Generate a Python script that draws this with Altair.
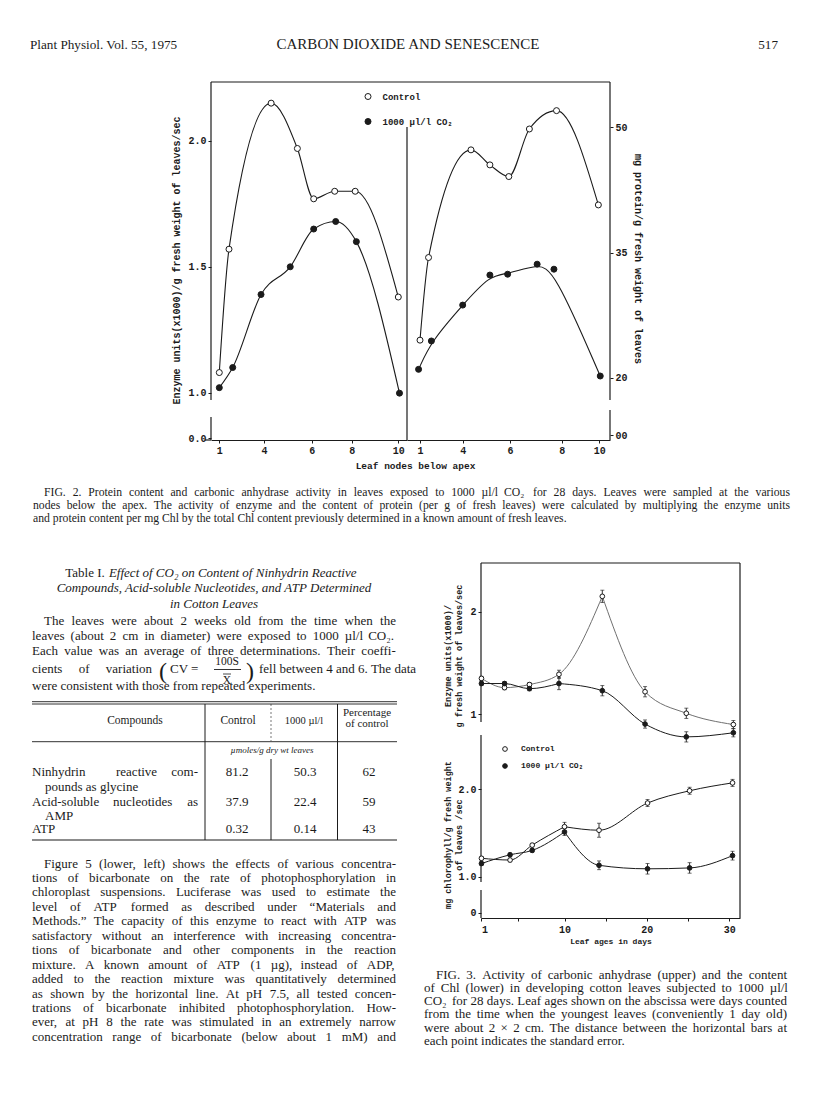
import altair as alt
import pandas as pd

SERIF = "Liberation Serif"
MONO = "Liberation Mono"
INK = "#1b1b1b"

# ---------------- Fig. 2 data (leaf nodes below apex) ----------------
f2_enz_ctrl_node = [1.0, 1.65, 4.3, 5.4, 6.1, 7.15, 8.15, 10.0]
f2_enz_ctrl = [1.08, 1.57, 2.15, 1.97, 1.77, 1.80, 1.80, 1.38]
f2_enz_co2_node = [1.0, 1.9, 3.8, 5.1, 6.1, 7.2, 8.2, 10.05]
f2_enz_co2 = [1.02, 1.10, 1.39, 1.50, 1.65, 1.68, 1.60, 0.99]
f2_prot_ctrl_node = [1.0, 1.6, 4.35, 5.15, 5.95, 6.75, 7.8, 9.95]
f2_prot_ctrl = [24.5, 34.4, 47.3, 45.5, 44.1, 49.8, 52.0, 40.7]
f2_prot_co2_node = [0.9, 1.8, 4.0, 5.15, 5.9, 7.05, 7.7, 10.05]
f2_prot_co2 = [21.0, 24.4, 28.7, 32.3, 32.4, 33.6, 33.0, 20.2]
f2_node_ticks = [1, 4, 6, 8, 10]
f2_enz_ticks = [0, 1.0, 1.5, 2.0]
f2_prot_ticks = [0, 20, 35, 50]

# ---------------- Fig. 3 data (leaf age, days) ----------------
f3_enz_day = [1, 3.5, 6.2, 9.4, 14.6, 19.8, 24.8, 30.5]
f3_enz_ctrl = [1.35, 1.26, 1.29, 1.39, 2.15, 1.22, 1.01, 0.90]
f3_enz_ctrl_se = [0.02, 0.02, 0.02, 0.04, 0.06, 0.05, 0.05, 0.04]
f3_enz_co2 = [1.30, 1.30, 1.25, 1.30, 1.23, 0.905, 0.78, 0.82]
f3_enz_co2_se = [0.02, 0.02, 0.02, 0.06, 0.05, 0.04, 0.05, 0.04]
f3_chl_day = [1, 4.1, 6.5, 10, 14.2, 20.1, 25.2, 30.4]
f3_chl_ctrl = [1.21, 1.19, 1.36, 1.57, 1.53, 1.84, 1.98, 2.07]
f3_chl_ctrl_se = [0.02, 0.02, 0.02, 0.05, 0.08, 0.04, 0.04, 0.04]
f3_chl_co2 = [1.15, 1.25, 1.30, 1.51, 1.13, 1.09, 1.10, 1.24]
f3_chl_co2_se = [0.02, 0.02, 0.02, 0.04, 0.05, 0.06, 0.06, 0.05]
f3_day_ticks = [1, 5, 10, 15, 20, 25, 30]

SERIES = ["Control", "1000 µl/l CO₂"]

# ---------------- Table I ----------------
tbl_header = ["Compounds", "Control", "1000 µl/l", "Percentage\nof control"]
tbl_units = "µmoles/g dry wt leaves"
tbl_control = ["81.2", "37.9", "0.32"]
tbl_co2 = ["50.3", "22.4", "0.14"]
tbl_pct = ["62", "59", "43"]

# ---------------- page text ----------------
header_left = "Plant Physiol. Vol. 55, 1975"
header_mid = "CARBON DIOXIDE AND SENESCENCE"
header_right = "517"

cap2_lines = [
    "FIG. 2. Protein content and carbonic anhydrase activity in leaves exposed to 1000 µl/l CO₂ for 28 days. Leaves were sampled at the various",
    "nodes below the apex. The activity of enzyme and the content of protein (per g of fresh leaves) were calculated by multiplying the enzyme units",
    "and protein content per mg Chl by the total Chl content previously determined in a known amount of fresh leaves.",
]
tbl_title_lead = "Table I."
tbl_title = ["Effect of CO₂ on Content of Ninhydrin Reactive",
             "Compounds, Acid-soluble Nucleotides, and ATP Determined",
             "in Cotton Leaves"]
para1 = [
    "The leaves were about 2 weeks old from the time when the",
    "leaves (about 2 cm in diameter) were exposed to 1000 µl/l CO₂.",
    "Each value was an average of three determinations. Their coeffi-",
]
para1_cv = ["cients of variation", "CV =", "100S", "X", "fell between 4 and 6. The data"]
para1_last = "were consistent with those from repeated experiments."
body = [
    "Figure 5 (lower, left) shows the effects of various concentra-",
    "tions of bicarbonate on the rate of photophosphorylation in",
    "chloroplast suspensions. Luciferase was used to estimate the",
    "level of ATP formed as described under “Materials and",
    "Methods.” The capacity of this enzyme to react with ATP was",
    "satisfactory without an interference with increasing concentra-",
    "tions of bicarbonate and other components in the reaction",
    "mixture. A known amount of ATP (1 µg), instead of ADP,",
    "added to the reaction mixture was quantitatively determined",
    "as shown by the horizontal line. At pH 7.5, all tested concen-",
    "trations of bicarbonate inhibited photophosphorylation. How-",
    "ever, at pH 8 the rate was stimulated in an extremely narrow",
    "concentration range of bicarbonate (below about 1 mM) and",
]
cap3_lines = [
    "FIG. 3. Activity of carbonic anhydrase (upper) and the content",
    "of Chl (lower) in developing cotton leaves subjected to 1000 µl/l",
    "CO₂ for 28 days. Leaf ages shown on the abscissa were days counted",
    "from the time when the youngest leaves (conveniently 1 day old)",
    "were about 2 × 2 cm. The distance between the horizontal bars at",
    "each point indicates the standard error.",
]

ONE = pd.DataFrame({"k": [0]})

# Times/Liberation Serif advance widths (1/1000 em) used to justify lines
_TW = {" ": 250, "(": 333, ")": 333, ",": 250, "-": 333, ".": 250, "/": 278, ":": 278,
       ";": 278, "“": 444, "”": 444, "’": 333, "µ": 500, "×": 564, "₂": 500, "=": 564}
_TW.update({c: 500 for c in "0123456789"})
_TW.update(dict(zip("ABCDEFGHIJKLMNOPQRSTUVWXYZ",
                    [722, 667, 667, 722, 611, 556, 722, 722, 333, 389, 722, 611, 889, 722,
                     722, 556, 722, 667, 556, 611, 722, 722, 944, 722, 722, 611])))
_TW.update(dict(zip("abcdefghijklmnopqrstuvwxyz",
                    [444, 500, 444, 500, 444, 333, 500, 500, 278, 278, 500, 278, 778, 500,
                     500, 500, 500, 333, 389, 278, 500, 500, 722, 500, 500, 444])))


def tw(s, size):
    return sum(_TW.get(c, 500) for c in s) * size / 1000.0


def block(lines, x_left, y0, lh, size, org, right=None, ragged_last=True, indent=0,
          style="normal"):
    rows = []
    for i, line in enumerate(lines):
        xl = x_left + (indent if i == 0 else 0)
        ws = line.split(" ")
        wd = [tw(w, size) for w in ws]
        gap = 0.25 * size
        if right is not None and len(ws) > 1 and not (ragged_last and i == len(lines) - 1):
            g = (right - xl - sum(wd)) / (len(ws) - 1)
            if g > 0.15 * size:
                gap = g
        x = xl
        for w, d in zip(ws, wd):
            rows.append({"w": w, "px": x - org[0], "py": y0 + i * lh - org[1]})
            x += d + gap
    df = pd.DataFrame(rows)
    return alt.Chart(df).mark_text(align="left", baseline="alphabetic", font=SERIF,
                                   fontSize=size, fontStyle=style, color=INK).encode(
        text="w:N", x=alt.X("px:Q", scale=None, axis=None),
        y=alt.Y("py:Q", scale=None, axis=None))


def txt(s, px, py, org, size=13, font=SERIF, align="left", style="normal",
        weight="normal", angle=None, lh=None, baseline="alphabetic", color=INK):
    kw = dict(text=s, align=align, baseline=baseline, font=font, fontSize=size,
              fontStyle=style, fontWeight=weight, color=color)
    if angle is not None:
        kw["angle"] = angle
    if lh is not None:
        kw.update(lineBreak="\n", lineHeight=lh)
    return alt.Chart(ONE).mark_text(**kw).encode(
        x=alt.value(px - org[0]), y=alt.value(py - org[1]))


def rule(px1, py1, px2, py2, org, w=1.1, color=INK, dash=None):
    kw = dict(color=color, strokeWidth=w)
    if dash:
        kw["strokeDash"] = dash
    if px1 == px2:
        enc = dict(x=alt.value(px1 - org[0]), y=alt.value(py1 - org[1]),
                   y2=alt.value(py2 - org[1]))
    else:
        enc = dict(y=alt.value(py1 - org[1]), x=alt.value(px1 - org[0]),
                   x2=alt.value(px2 - org[0]))
    return alt.Chart(ONE).mark_rule(**kw).encode(**enc)


def spacer(w, h):
    return alt.Chart(ONE).mark_text(text=" ").encode(
        x=alt.value(0), y=alt.value(0)).properties(width=w, height=h)


def frame(xs, ys, series, se=None):
    d = pd.DataFrame({"x": xs, "v": ys, "series": series})
    if se is not None:
        d["se"] = se
    return d


FILL = alt.Scale(domain=SERIES, range=["white", INK])
AXSTYLE = dict(labelFont=MONO, labelFontWeight="bold", labelColor=INK,
               tickColor=INK, domainColor=INK, grid=False,
               titleFont=MONO, titleFontWeight="bold", titleColor=INK)

# ======================= FIG. 2 =======================
W2L, W2R, H2 = 196, 203, 358
O2L, O2R = (211, 82), (407, 82)

x2l = alt.Scale(domain=[0.44, 1, 4, 6, 8, 10, 10.37],
                range=[0, 8.3, 53, 100.7, 140.7, 187.3, W2L], nice=False, zero=False)
y2l = alt.Scale(domain=[0, 1.0, 2.234], range=[356, 310.7, 0], nice=False, zero=False)
x2r = alt.Scale(domain=[0.087, 1, 4, 6, 8, 10, 10.57],
                range=[0, 13, 55.7, 103, 154.7, 192.3, W2R], nice=False, zero=False)
y2r = alt.Scale(domain=[0, 20, 55.43], range=[353, 295.7, 0], nice=False, zero=False)

ax_x2l = alt.Axis(values=f2_node_ticks, tickSize=3, labelPadding=2, labelFontSize=10,
                  domainWidth=1.2, title="Leaf nodes below apex", titleFontSize=9.5,
                  titleX=204, titleY=25, titleBaseline="middle", **AXSTYLE)
ax_x2r = alt.Axis(values=f2_node_ticks, tickSize=3, labelPadding=2, labelFontSize=10,
                  domainWidth=1.2, title=None, **AXSTYLE)
ax_y2l = alt.Axis(values=f2_enz_ticks, labelExpr="format(datum.value, '.1f')",
                  domain=False, tickSize=3, labelPadding=2, labelFontSize=10,
                  title="Enzyme units(x1000)/g fresh weight of leaves/sec",
                  titleFontSize=10, titlePadding=6, **AXSTYLE)
ax_y2r = alt.Axis(orient="right", values=f2_prot_ticks,
                  labelExpr="datum.value == 0 ? '00' : datum.label",
                  domain=False, tickSize=3, labelPadding=2, labelFontSize=10,
                  title="mg protein/g fresh weight of leaves", titleFontSize=10,
                  titlePadding=5, **AXSTYLE)

leg2 = alt.Legend(orient="none", legendX=152.5, legendY=10, direction="vertical",
                  title=None, padding=0, labelFont=MONO, labelFontWeight="bold",
                  labelFontSize=9, labelColor=INK, symbolType="circle", symbolSize=36,
                  symbolStrokeColor=INK, symbolStrokeWidth=1, symbolOpacity=1,
                  rowPadding=14, labelOffset=10, labelLimit=300)


def f2panel(df_c, df_t, xs, ys, axx, axy, legend, interp_t):
    X = alt.X("x:Q", scale=xs, axis=axx)
    Y = alt.Y("v:Q", scale=ys, axis=axy)
    lc = alt.Chart(df_c).mark_line(interpolate="monotone", color=INK, strokeWidth=1.1).encode(x=X, y=Y)
    lt = alt.Chart(df_t).mark_line(interpolate=interp_t, color=INK, strokeWidth=1.1).encode(x=X, y=Y)
    pts = alt.Chart(pd.concat([df_c, df_t])).mark_point(
        shape="circle", filled=True, size=36, stroke=INK, strokeWidth=1, opacity=1
    ).encode(x=X, y=Y, fill=alt.Fill("series:N", scale=FILL, legend=legend))
    return [lc, lt, pts]


f2L = alt.layer(
    rule(211, 82, 211, 400, O2L, w=1.2), rule(211, 417, 211, 440, O2L, w=1.2),
    rule(211, 82, 407, 82, O2L, w=1.2), rule(205, 440, 211, 440, O2L, w=1.2),
    *f2panel(frame(f2_enz_ctrl_node, f2_enz_ctrl, SERIES[0]),
             frame(f2_enz_co2_node, f2_enz_co2, SERIES[1]),
             x2l, y2l, ax_x2l, ax_y2l, leg2, "monotone"),
).properties(width=W2L, height=H2)

f2R = alt.layer(
    rule(407, 82, 610, 82, O2R, w=1.2), rule(407, 127, 407, 440, O2R, w=1.2),
    rule(610, 82, 610, 400, O2R, w=1.2), rule(610, 410, 610, 440, O2R, w=1.2),
    *f2panel(frame(f2_prot_ctrl_node, f2_prot_ctrl, SERIES[0]),
             frame(f2_prot_co2_node, f2_prot_co2, SERIES[1]),
             x2r, y2r, ax_x2r, ax_y2r, None, "basis"),
).properties(width=W2R, height=H2)

fig2 = alt.hconcat(spacer(203, H2), f2L, f2R, spacing=0, bounds="flush").resolve_scale(
    x="independent", y="independent", fill="independent").resolve_legend(fill="independent")

# ======================= FIG. 3 =======================
W3, H3U, H3L = 259, 167, 188
O3U, O3L = (481, 563), (481, 730)
x3 = alt.Scale(domain=[0.95, 10, 20, 30, 31.3], range=[0, 83.5, 165.7, 248.2, W3],
               nice=False, zero=False)
y3u = alt.Scale(domain=[0.847, 2.475], nice=False, zero=False)
y3l = alt.Scale(domain=[-0.1, 0, 1, 2.673], range=[H3L, 182.7, 146.7, 0], nice=False, zero=False)

ax_y3u = alt.Axis(values=[1, 2], domain=False, tickSize=3, labelPadding=2, labelFontSize=10,
                  title=None, **AXSTYLE)
ax_y3l = alt.Axis(values=[0, 1, 2], labelExpr="datum.value == 0 ? '0' : format(datum.value, '.1f')",
                  domain=False, tickSize=3, labelPadding=2, labelFontSize=10, title=None, **AXSTYLE)
ax_x3 = alt.Axis(values=f3_day_ticks,
                 labelExpr="(datum.value == 5 || datum.value == 15 || datum.value == 25) ? '' : datum.label",
                 tickSize=3, labelPadding=3, labelFontSize=10, domainWidth=1.2,
                 title="Leaf ages in days", titleFontSize=8, titleY=23, titleBaseline="middle",
                 **AXSTYLE)

leg3 = alt.Legend(orient="none", legendX=20, legendY=15, direction="vertical",
                  title=None, padding=0, labelFont=MONO, labelFontWeight="bold",
                  labelFontSize=8, labelColor=INK, symbolType="circle", symbolSize=22,
                  symbolStrokeColor=INK, symbolStrokeWidth=1, symbolOpacity=1,
                  rowPadding=7, labelOffset=12, labelLimit=300)


def f3panel(df_c, df_t, ys, axx, axy, legend, kc, kt, ctrl_color):
    X = alt.X("x:Q", scale=x3, axis=axx)
    Y = alt.Y("v:Q", scale=ys, axis=axy)
    both = pd.concat([df_c, df_t])
    YL = alt.Y("lo:Q", scale=ys, axis=axy)
    YH = alt.Y("hi:Q", scale=ys, axis=axy)
    base = alt.Chart(both).transform_calculate(lo="datum.v - datum.se", hi="datum.v + datum.se")
    err = base.mark_rule(color=INK, strokeWidth=0.9).encode(x=X, y=YL, y2="hi:Q")
    cap_lo = base.mark_tick(orient="horizontal", size=4, thickness=0.9, color=INK).encode(x=X, y=YL)
    cap_hi = base.mark_tick(orient="horizontal", size=4, thickness=0.9, color=INK).encode(x=X, y=YH)
    layers = [err, cap_lo, cap_hi]
    # each curve is drawn in two smooth pieces that meet in a cusp at its peak
    for d, k, col in ((df_c, kc, ctrl_color), (df_t, kt, INK)):
        for part in (d.iloc[:k + 1], d.iloc[k:]):
            layers.append(alt.Chart(part).mark_line(interpolate="monotone", color=col,
                                                    strokeWidth=1).encode(x=X, y=Y))
    pts = alt.Chart(both).mark_point(shape="circle", filled=True, size=22, stroke=INK,
                                     strokeWidth=1, opacity=1).encode(
        x=X, y=Y, fill=alt.Fill("series:N", scale=FILL, legend=legend))
    layers.append(pts)
    return layers


f3U = alt.layer(
    rule(481, 563, 740, 563, O3U, w=1.2), rule(740, 563, 740, 730, O3U, w=1.2),
    rule(481, 563, 481, 722, O3U, w=1.2),
    txt("Enzyme units(x1000)/\ng fresh weight of leaves/sec", 447.5, 656, O3U, size=8.5,
        font=MONO, weight="bold", align="center", baseline="middle", angle=270, lh=11),
    *f3panel(frame(f3_enz_day, f3_enz_ctrl, SERIES[0], f3_enz_ctrl_se),
             frame(f3_enz_day, f3_enz_co2, SERIES[1], f3_enz_co2_se),
             y3u, None, ax_y3u, None, 4, 3, "#707070"),
).properties(width=W3, height=H3U)

f3L = alt.layer(
    rule(740, 730, 740, 918, O3L, w=1.2), rule(481, 735, 481, 882, O3L, w=1.2),
    rule(481, 890, 481, 918, O3L, w=1.2),
    txt("mg chlorophyll/g fresh weight\nof leaves /sec", 447.5, 835, O3L, size=8.5,
        font=MONO, weight="bold", align="center", baseline="middle", angle=270, lh=11),
    *f3panel(frame(f3_chl_day, f3_chl_ctrl, SERIES[0], f3_chl_ctrl_se),
             frame(f3_chl_day, f3_chl_co2, SERIES[1], f3_chl_co2_se),
             y3l, ax_x3, ax_y3l, leg3, 3, 3, INK),
).properties(width=W3, height=H3L)

O3C = (481, 918)
cap3 = alt.layer(
    block(cap3_lines, 424, 978.5, 13.3, 13, O3C, right=787, indent=12),
).properties(width=W3, height=150)

fig3col = alt.vconcat(f3U, f3L, cap3, spacing=0, bounds="flush").resolve_scale(
    x="independent", y="independent", fill="independent").resolve_legend(fill="independent")

# ======================= page text blocks =======================
OH = (8, 8)
header = alt.layer(
    txt(header_left, 30, 49, OH, size=13.2),
    txt(header_mid, 408, 49, OH, size=15, align="center"),
    txt(header_right, 778, 49, OH, size=13.2, align="right"),
).properties(width=800, height=74)

OC = (8, 440)
cap2 = alt.layer(
    block(cap2_lines, 33, 496, 12.8, 11.7, OC, right=790, indent=11),
).properties(width=800, height=123)

OLC = (8, 563)
row_base = [775.5, 805.5, 833]
tbl_df = pd.DataFrame({
    "t": tbl_control + tbl_co2 + tbl_pct,
    "px": [237 - 8] * 3 + [305 - 8] * 3 + [369 - 8] * 3,
    "py": [y - 563 for y in row_base] * 3,
})
tbl_vals = alt.Chart(tbl_df).mark_text(align="center", baseline="alphabetic", font=SERIF,
                                       fontSize=13, color=INK).encode(
    text="t:N", x=alt.X("px:Q", scale=None, axis=None), y=alt.Y("py:Q", scale=None, axis=None))

# title line 1: upright "Table I." followed by italic text, centred on the column
_t1_w = tw(tbl_title_lead + " " + tbl_title[0], 13)
_t1_x = 214 - _t1_w / 2

leftcol = alt.layer(
    txt(tbl_title_lead, _t1_x, 576.5, OLC, size=13),
    txt(tbl_title[0], _t1_x + tw(tbl_title_lead + " ", 13), 576.5, OLC, size=13, style="italic"),
    txt("\n".join(tbl_title[1:]), 214, 592, OLC, size=13, style="italic", align="center", lh=15.5),
    block(para1, 32, 624.5, 15, 13, OLC, right=396, ragged_last=False, indent=12),
    block([para1_cv[0]], 32, 672.5, 15, 13, OLC, right=152, ragged_last=False),
    txt("(", 159, 678.5, OLC, size=24),
    txt(")", 246, 678.5, OLC, size=24),
    txt(para1_cv[1], 170, 672.5, OLC),
    txt(para1_cv[2], 227, 664.5, OLC, size=11.5, align="center"),
    rule(214, 669.5, 241, 669.5, OLC, w=0.9),
    txt(para1_cv[3], 227, 684, OLC, size=11.5, align="center"),
    rule(223, 674, 231, 674, OLC, w=0.8),
    block([para1_cv[4]], 259, 672.5, 15, 13, OLC, right=396, ragged_last=False),
    txt(para1_last, 32, 689.5, OLC),
    # table rules
    rule(32, 701.7, 397, 701.7, OLC, w=0.9), rule(32, 704, 397, 704, OLC, w=0.9),
    rule(32, 741.7, 397, 741.7, OLC, w=0.9), rule(32, 840, 397, 840, OLC, w=1.2),
    rule(205, 704, 205, 840, OLC, w=1.0), rule(337.5, 704, 337.5, 840, OLC, w=1.0),
    rule(271, 704, 271, 741, OLC, w=0.6, dash=[2, 2]), rule(271, 759, 271, 840, OLC, w=1.0),
    # table header
    txt(tbl_header[0], 135, 724, OLC, size=11.5, align="center"),
    txt(tbl_header[1], 238, 724, OLC, size=11.5, align="center"),
    txt(tbl_header[2], 304, 724, OLC, size=10.5, align="center"),
    txt(tbl_header[3], 367, 716, OLC, size=11, align="center", lh=11),
    txt(tbl_units, 272, 753, OLC, size=9, style="italic", align="center"),
    # row labels
    txt("Ninhydrin", 32, 775.5, OLC), txt("reactive", 116, 775.5, OLC),
    txt("com-", 198, 775.5, OLC, align="right"),
    txt("pounds as glycine", 45, 790.5, OLC),
    txt("Acid-soluble", 32, 805.5, OLC), txt("nucleotides", 113, 805.5, OLC),
    txt("as", 198, 805.5, OLC, align="right"),
    txt("AMP", 45, 820, OLC),
    txt("ATP", 32, 833, OLC),
    tbl_vals,
    # body text
    block(body, 32, 867.5, 14.45, 13, OLC, right=396, ragged_last=False, indent=12),
).properties(width=473, height=543)

row3 = alt.hconcat(leftcol, fig3col, spacing=0, bounds="flush").resolve_scale(
    x="independent", y="independent", fill="independent").resolve_legend(fill="independent")

page = alt.vconcat(header, fig2, spacer(800, H2), cap2, row3, spacing=0, bounds="flush",
                   padding=0).resolve_scale(
    x="independent", y="independent", fill="independent").resolve_legend(
    fill="independent").configure_view(stroke=None).configure_axis(grid=False)

page.save("out.html", embed_options={"renderer": "svg", "actions": False})
